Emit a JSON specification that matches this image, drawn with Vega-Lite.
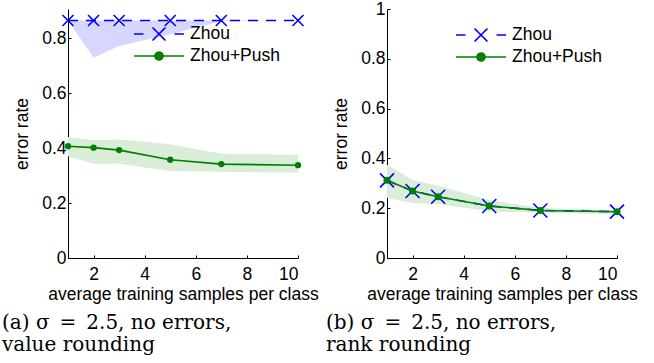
{
  "$schema": "https://vega.github.io/schema/vega-lite/v6.json",
  "padding": {"left": 2, "top": 0, "right": 5, "bottom": 5},
  "background": "white",
  "config": {
    "view": {"stroke": null},
    "axis": {
      "grid": false,
      "domainColor": "black",
      "tickColor": "black",
      "labelColor": "black",
      "titleColor": "black",
      "labelFont": "Liberation Sans",
      "titleFont": "Liberation Sans",
      "labelFontSize": 17.5,
      "titleFontSize": 17.5,
      "titleFontWeight": "normal",
      "tickSize": -3,
      "domainWidth": 1,
      "tickWidth": 1
    },
    "legend": {
      "labelFont": "Liberation Sans",
      "labelFontSize": 17.5,
      "labelColor": "black"
    },
    "title": {"font": "DejaVu Serif", "fontSize": 20, "fontWeight": "normal", "color": "black"}
  },
  "data": {
    "values": [
      {"panel": "a", "series": "Zhou", "x": 1, "y": 0.865, "lo": 0.865, "hi": 0.865},
      {"panel": "a", "series": "Zhou", "x": 2, "y": 0.865, "lo": 0.729, "hi": 0.865},
      {"panel": "a", "series": "Zhou", "x": 3, "y": 0.865, "lo": 0.772, "hi": 0.865},
      {"panel": "a", "series": "Zhou", "x": 5, "y": 0.865, "lo": 0.815, "hi": 0.865},
      {"panel": "a", "series": "Zhou", "x": 7, "y": 0.865, "lo": 0.862, "hi": 0.865},
      {"panel": "a", "series": "Zhou", "x": 10, "y": 0.865, "lo": 0.865, "hi": 0.865},
      {"panel": "a", "series": "Zhou+Push", "x": 1, "y": 0.407, "lo": 0.371, "hi": 0.441},
      {"panel": "a", "series": "Zhou+Push", "x": 2, "y": 0.402, "lo": 0.343, "hi": 0.429},
      {"panel": "a", "series": "Zhou+Push", "x": 3, "y": 0.393, "lo": 0.343, "hi": 0.432},
      {"panel": "a", "series": "Zhou+Push", "x": 5, "y": 0.358, "lo": 0.317, "hi": 0.414},
      {"panel": "a", "series": "Zhou+Push", "x": 7, "y": 0.342, "lo": 0.314, "hi": 0.380},
      {"panel": "a", "series": "Zhou+Push", "x": 10, "y": 0.338, "lo": 0.311, "hi": 0.376},
      {"panel": "b", "series": "Zhou", "x": 1, "y": 0.312, "lo": 0.242, "hi": 0.373},
      {"panel": "b", "series": "Zhou", "x": 2, "y": 0.269, "lo": 0.222, "hi": 0.312},
      {"panel": "b", "series": "Zhou", "x": 3, "y": 0.246, "lo": 0.218, "hi": 0.289},
      {"panel": "b", "series": "Zhou", "x": 5, "y": 0.209, "lo": 0.189, "hi": 0.232},
      {"panel": "b", "series": "Zhou", "x": 7, "y": 0.191, "lo": 0.182, "hi": 0.200},
      {"panel": "b", "series": "Zhou", "x": 10, "y": 0.186, "lo": 0.178, "hi": 0.191},
      {"panel": "b", "series": "Zhou+Push", "x": 1, "y": 0.312, "lo": 0.242, "hi": 0.373},
      {"panel": "b", "series": "Zhou+Push", "x": 2, "y": 0.269, "lo": 0.222, "hi": 0.312},
      {"panel": "b", "series": "Zhou+Push", "x": 3, "y": 0.246, "lo": 0.218, "hi": 0.289},
      {"panel": "b", "series": "Zhou+Push", "x": 5, "y": 0.209, "lo": 0.189, "hi": 0.232},
      {"panel": "b", "series": "Zhou+Push", "x": 7, "y": 0.191, "lo": 0.182, "hi": 0.200},
      {"panel": "b", "series": "Zhou+Push", "x": 10, "y": 0.186, "lo": 0.178, "hi": 0.191}
    ]
  },
  "bounds": "flush",
  "spacing": 89,
  "hconcat": [
    {
      "width": 230,
      "height": 249,
      "title": {"text": ["(a) σ\u2002=\u20022.5, no errors,", "value rounding"], "orient": "bottom", "anchor": "start", "frame": "group", "dx": -66, "offset": 10, "lineHeight": 22},
      "transform": [{"filter": "datum.panel === 'a'"}],
      "encoding": {
        "x": {"field": "x", "type": "quantitative", "scale": {"domain": [1, 10], "nice": false, "zero": false},
          "axis": {"title": "average training samples per class", "values": [2, 4, 6, 8, 10], "format": "d", "labelPadding": 10, "titlePadding": 3}},
        "y": {"field": "y", "type": "quantitative", "scale": {"domain": [0, 0.907], "nice": false},
          "axis": {"title": "error rate", "values": [0, 0.2, 0.4, 0.6, 0.8], "format": ".1~f", "labelPadding": 5, "titlePadding": 10}}
      },
      "layer": [
        {"mark": {"type": "area", "stroke": null},
          "encoding": {"y": {"field": "lo", "type": "quantitative"}, "y2": {"field": "hi"},
            "fill": {"field": "series", "type": "nominal", "scale": {"domain": ["Zhou", "Zhou+Push"], "range": ["#d6d6ff", "#d9edd9"]}, "legend": null}}},
        {"transform": [{"filter": "datum.series === 'Zhou'"}],
          "mark": {"type": "line", "strokeWidth": 1.6, "strokeDash": [10, 8]},
          "encoding": {"color": {"field": "series", "type": "nominal", "scale": {"domain": ["Zhou", "Zhou+Push"], "range": ["#0000ff", "#008000"]},
            "legend": {"title": null, "orient": "none", "legendX": 80, "legendY": 14, "padding": 0, "rowPadding": 1, "labelOffset": 20, "symbolSize": 400,
              "encode": {"symbols": {"update": {
                "shape": {"signal": "datum.value === 'Zhou' ? 'M-2.5,0H-1.55M1.55,0H2.5M-0.65,-0.65L0.65,0.65M-0.65,0.65L0.65,-0.65' : 'M-2.5,0H2.5M-0.4,0A0.4,0.4,0,1,1,0.4,0A0.4,0.4,0,1,1,-0.4,0Z'"},
                "stroke": {"signal": "datum.value === 'Zhou' ? '#0000ff' : '#008000'"},
                "fill": {"signal": "datum.value === 'Zhou' ? 'transparent' : '#008000'"},
                "strokeDash": {"value": [1, 0]},
                "opacity": {"value": 1},
                "strokeWidth": {"value": 1.6}}}}}}}},
        {"transform": [{"filter": "datum.series === 'Zhou'"}],
          "mark": {"type": "point", "shape": "M-1,-1L1,1M-1,1L1,-1", "filled": false, "stroke": "#0000ff", "strokeWidth": 1.6, "size": 121, "opacity": 1}},
        {"transform": [{"filter": "datum.series === 'Zhou+Push'"}],
          "mark": {"type": "line", "strokeWidth": 1.6, "color": "#008000"}},
        {"transform": [{"filter": "datum.series === 'Zhou+Push'"}],
          "mark": {"type": "circle", "color": "#008000", "size": 40, "opacity": 1}}
      ]
    },
    {
      "width": 230,
      "height": 249,
      "title": {"text": ["(b) σ\u2002=\u20022.5, no errors,", "rank rounding"], "orient": "bottom", "anchor": "start", "frame": "group", "dx": -61, "offset": 10, "lineHeight": 22},
      "transform": [{"filter": "datum.panel === 'b'"}],
      "encoding": {
        "x": {"field": "x", "type": "quantitative", "scale": {"domain": [1, 10], "nice": false, "zero": false},
          "axis": {"title": "average training samples per class", "values": [2, 4, 6, 8, 10], "format": "d", "labelPadding": 10, "titlePadding": 3}},
        "y": {"field": "y", "type": "quantitative", "scale": {"domain": [0, 1], "nice": false},
          "axis": {"title": "error rate", "values": [0, 0.2, 0.4, 0.6, 0.8, 1], "format": ".1~f", "labelPadding": 5, "titlePadding": 10}}
      },
      "layer": [
        {"mark": {"type": "area", "stroke": null},
          "encoding": {"y": {"field": "lo", "type": "quantitative"}, "y2": {"field": "hi"},
            "fill": {"field": "series", "type": "nominal", "scale": {"domain": ["Zhou", "Zhou+Push"], "range": ["#d6d6ff", "#d9edd9"]}, "legend": null}}},
        {"transform": [{"filter": "datum.series === 'Zhou'"}],
          "mark": {"type": "line", "strokeWidth": 1.6, "strokeDash": [10, 8]},
          "encoding": {"color": {"field": "series", "type": "nominal", "scale": {"domain": ["Zhou", "Zhou+Push"], "range": ["#0000ff", "#008000"]},
            "legend": {"title": null, "orient": "top-right", "offset": 15, "padding": 0, "rowPadding": 1, "labelOffset": 20, "symbolSize": 400,
              "encode": {"symbols": {"update": {
                "shape": {"signal": "datum.value === 'Zhou' ? 'M-2.5,0H-1.55M1.55,0H2.5M-0.65,-0.65L0.65,0.65M-0.65,0.65L0.65,-0.65' : 'M-2.5,0H2.5M-0.4,0A0.4,0.4,0,1,1,0.4,0A0.4,0.4,0,1,1,-0.4,0Z'"},
                "stroke": {"signal": "datum.value === 'Zhou' ? '#0000ff' : '#008000'"},
                "fill": {"signal": "datum.value === 'Zhou' ? 'transparent' : '#008000'"},
                "strokeDash": {"value": [1, 0]},
                "opacity": {"value": 1},
                "strokeWidth": {"value": 1.6}}}}}}}},
        {"transform": [{"filter": "datum.series === 'Zhou'"}],
          "mark": {"type": "point", "shape": "M-1,-1L1,1M-1,1L1,-1", "filled": false, "stroke": "#0000ff", "strokeWidth": 1.6, "size": 196, "opacity": 1}},
        {"transform": [{"filter": "datum.series === 'Zhou+Push'"}],
          "mark": {"type": "line", "strokeWidth": 1.6, "color": "#008000"}},
        {"transform": [{"filter": "datum.series === 'Zhou+Push'"}],
          "mark": {"type": "circle", "color": "#008000", "size": 50, "opacity": 1}}
      ]
    }
  ]
}
